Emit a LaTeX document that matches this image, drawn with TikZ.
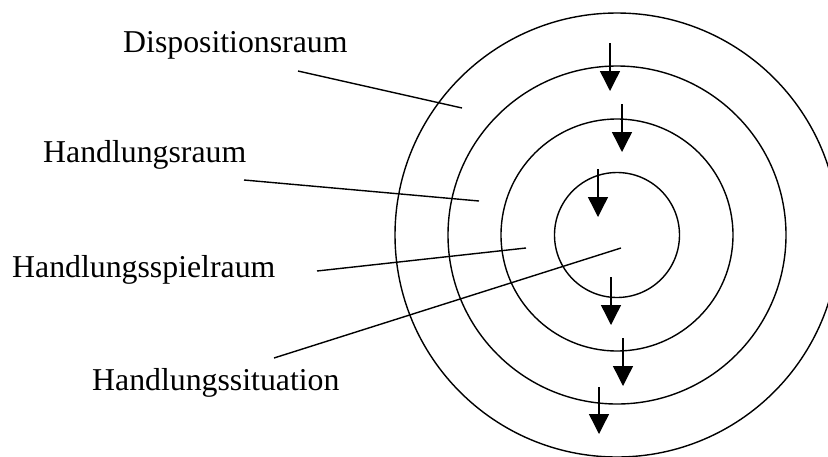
\documentclass[tikz,border=0pt]{standalone}
\usepackage{fontspec}
\setmainfont{Liberation Serif}
\usetikzlibrary{arrows.meta}
\begin{document}
\begin{tikzpicture}[x=1pt,y=-1pt,
  ring/.style={draw=black,line width=1.4pt},
  leader/.style={draw=black,line width=1.4pt},
  downarrow/.style={draw=black,line width=1.4pt,-{Triangle[width=20pt,length=20pt]}},
  lbl/.style={font=\fontsize{31.8}{36}\selectfont,anchor=base west,inner sep=0pt}]
\useasboundingbox (0,0) rectangle (828,456);
\coordinate (c) at (617,235);
\draw[ring] (c) circle[radius=62.5];
\draw[ring] (c) circle[radius=116];
\draw[ring] (c) circle[radius=169];
\draw[ring] (c) circle[radius=222];
% labels
\node[lbl] (disp) at (123,52) {Dispositionsraum};
\node[lbl] (hraum) at (43,162) {Handlungsraum};
\node[lbl] (hspiel) at (12,277) {Handlungsspielraum};
\node[lbl] (hsit) at (92,390) {Handlungssituation};
% leader ends
\coordinate (d1) at (298,71);  \coordinate (d2) at (462,108);
\coordinate (r1) at (244,180); \coordinate (r2) at (479,201);
\coordinate (s1) at (317,271); \coordinate (s2) at (526,248);
\coordinate (t1) at (274,358); \coordinate (t2) at (621,248);
\draw[leader] (d1) -- (d2);
\draw[leader] (r1) -- (r2);
\draw[leader] (s1) -- (s2);
\draw[leader] (t1) -- (t2);
% arrows
\coordinate (a1s) at (610,43);  \coordinate (a1e) at (610,91);
\coordinate (a2s) at (622,104); \coordinate (a2e) at (622,152);
\coordinate (a3s) at (598,169); \coordinate (a3e) at (598,217);
\coordinate (a4s) at (611,277); \coordinate (a4e) at (611,325);
\coordinate (a5s) at (623,338); \coordinate (a5e) at (623,386);
\coordinate (a6s) at (599,387); \coordinate (a6e) at (599,434);
\draw[downarrow] (a1s) -- (a1e);
\draw[downarrow] (a2s) -- (a2e);
\draw[downarrow] (a3s) -- (a3e);
\draw[downarrow] (a4s) -- (a4e);
\draw[downarrow] (a5s) -- (a5e);
\draw[downarrow] (a6s) -- (a6e);
\end{tikzpicture}
\end{document}
